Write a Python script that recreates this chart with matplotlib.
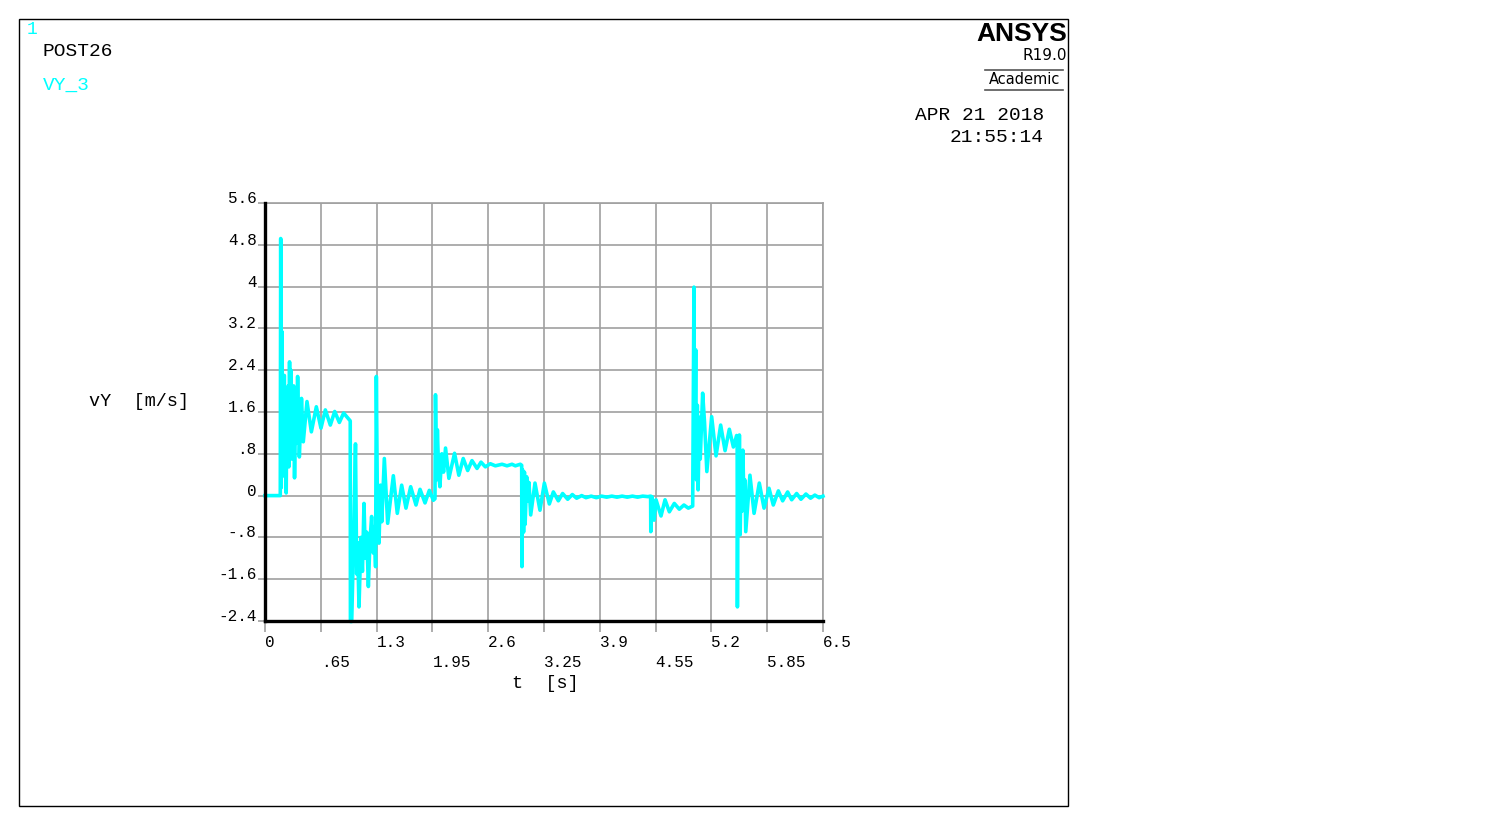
import numpy as np
import matplotlib.pyplot as plt
from matplotlib.patches import Rectangle
from matplotlib.lines import Line2D

# ---- data (time [s], vY [m/s]) ----
# first impact, settling near 1.5
t_a = [0.000, 0.178, 0.183, 0.189, 0.197, 0.204, 0.211, 0.218, 0.225, 0.232,
       0.240, 0.247, 0.254, 0.262, 0.270, 0.278, 0.286, 0.294, 0.302, 0.310,
       0.318, 0.326, 0.334, 0.344, 0.356, 0.366, 0.380, 0.400, 0.425, 0.446,
       0.489, 0.540, 0.598, 0.652, 0.703, 0.761, 0.812, 0.866, 0.916, 0.967,
       0.993]
v_a = [0.00, 0.00, 4.92, 0.15, 3.14, 0.40, 2.15, 0.95, 2.30, 0.36,
       1.95, 0.05, 1.60, 0.90, 2.10, 0.55, 2.56, 1.05, 2.40, 0.70,
       1.90, 1.25, 2.10, 0.34, 1.75, 1.00, 2.28, 0.74, 1.86, 1.03,
       1.80, 1.22, 1.70, 1.29, 1.64, 1.35, 1.61, 1.40, 1.58, 1.48,
       1.43]
# drop at ~1 s, spike at 1.3 s, settling near 0
t_b = [0.995, 1.010, 1.030, 1.054, 1.068, 1.078, 1.095, 1.118, 1.135, 1.153,
       1.170, 1.185, 1.204, 1.222, 1.242, 1.262, 1.275, 1.288, 1.297, 1.310,
       1.328, 1.345, 1.360, 1.390, 1.429, 1.495, 1.541, 1.592, 1.642, 1.697,
       1.759, 1.806, 1.864, 1.914, 1.961, 1.980]
v_b = [-2.41, -2.41, -1.00, 0.99, -1.50, -0.90, -2.13, -0.80, -1.45, -0.15,
       -1.20, -0.70, -1.74, -0.90, -0.40, -1.10, -0.60, -1.36, 2.28, -0.30,
       -0.91, 0.20, -0.50, 0.71, -0.53, 0.38, -0.34, 0.20, -0.24, 0.17,
       -0.18, 0.12, -0.14, 0.10, -0.09, -0.06]
# jump at ~2 s, settling near 0.6
t_c = [1.986, 1.998, 2.008, 2.022, 2.037, 2.060, 2.080, 2.103, 2.142, 2.208,
       2.258, 2.309, 2.361, 2.411, 2.470, 2.516, 2.567, 2.625, 2.683, 2.761,
       2.819, 2.877, 2.916, 2.974, 2.990]
v_c = [1.93, 0.30, 1.26, 0.50, 0.17, 0.80, 0.45, 0.91, 0.33, 0.81,
       0.39, 0.71, 0.48, 0.67, 0.52, 0.64, 0.55, 0.61, 0.57, 0.60,
       0.57, 0.60, 0.57, 0.60, 0.58]
# drop at ~3 s, flat near 0
t_d = [2.993, 3.002, 3.012, 3.022, 3.030, 3.048, 3.062, 3.075, 3.095, 3.145,
       3.203, 3.254, 3.312, 3.359, 3.417, 3.467, 3.526, 3.580, 3.630, 3.689,
       3.739, 3.800, 3.860, 3.920, 3.980, 4.040, 4.100, 4.160, 4.220, 4.280,
       4.340, 4.400, 4.460, 4.492]
v_d = [-1.36, 0.49, -0.70, 0.45, -0.55, 0.36, -0.10, 0.25, -0.37, 0.24,
       -0.28, 0.24, -0.16, 0.07, -0.10, 0.04, -0.07, 0.02, -0.05, 0.00,
       -0.04, -0.01, -0.04, -0.01, -0.03, -0.01, -0.03, -0.01, -0.03, -0.01,
       -0.03, -0.01, -0.02, -0.01]
# small dip at ~4.5 s
t_e = [4.494, 4.506, 4.516, 4.532, 4.555, 4.613, 4.660, 4.710, 4.768, 4.826,
       4.880, 4.931, 4.982]
v_e = [-0.69, -0.02, -0.10, -0.47, -0.08, -0.39, -0.08, -0.31, -0.15, -0.26,
       -0.18, -0.24, -0.20]
# second impact at ~5 s
t_f = [4.997, 5.005, 5.017, 5.026, 5.036, 5.045, 5.060, 5.070, 5.098, 5.120,
       5.147, 5.203, 5.254, 5.308, 5.359, 5.409, 5.456, 5.494, 5.500]
v_f = [3.99, 0.60, 2.79, 0.30, 1.73, 0.11, 1.50, 0.70, 1.96, 1.40,
       0.46, 1.51, 0.76, 1.35, 0.86, 1.27, 0.93, 1.15, 1.10]
# drop at ~5.5 s, settling to 0
t_g = [5.503, 5.510, 5.518, 5.526, 5.535, 5.545, 5.555, 5.566, 5.580, 5.590,
       5.600, 5.649, 5.697, 5.758, 5.813, 5.871, 5.921, 5.980, 6.030, 6.088,
       6.135, 6.193, 6.243, 6.301, 6.355, 6.405, 6.455, 6.500]
v_g = [-2.13, 0.90, -0.60, 1.16, -0.75, 0.40, -0.30, 0.87, -0.20, 0.30,
       -0.69, 0.39, -0.34, 0.24, -0.24, 0.14, -0.18, 0.09, -0.10, 0.07,
       -0.08, 0.04, -0.07, 0.03, -0.05, 0.01, -0.04, -0.01]

t = np.array(t_a + t_b + t_c + t_d + t_e + t_f + t_g)
vy = np.array(v_a + v_b + v_c + v_d + v_e + v_f + v_g)

x_ticks = [0, 0.65, 1.3, 1.95, 2.6, 3.25, 3.9, 4.55, 5.2, 5.85, 6.5]
x_labels = ['0', '.65', '1.3', '1.95', '2.6', '3.25', '3.9', '4.55', '5.2', '5.85', '6.5']
y_ticks = [-2.4, -1.6, -0.8, 0, 0.8, 1.6, 2.4, 3.2, 4.0, 4.8, 5.6]
y_labels = ['-2.4', '-1.6', '-.8', '0', '.8', '1.6', '2.4', '3.2', '4', '4.8', '5.6']

W, H = 1487, 826
mono = 'Liberation Mono'
grey = '#a0a0a0'
cyan = '#00ffff'

fig = plt.figure(figsize=(W / 100, H / 100), dpi=100)
fig.patch.set_facecolor('white')

ax = fig.add_axes([265 / W, 1 - 621 / H, (823 - 265) / W, (621 - 203) / H])
ax.plot(t, vy, color=cyan, lw=2.6, zorder=3, clip_on=False)
ax.set_xlim(0, 6.5)
ax.set_ylim(-2.4, 5.6)

ax.set_xticks(x_ticks)
# every other label goes on a second row
ax.set_xticklabels([lab if i % 2 == 0 else '\n' + lab for i, lab in enumerate(x_labels)],
                   ha='left', va='top', fontfamily=mono, fontsize=11.5, linespacing=1.45)
ax.set_yticks(y_ticks)
ax.set_yticklabels(y_labels, va='baseline', fontfamily=mono, fontsize=11.5)
ax.tick_params(axis='x', direction='out', length=8, width=1.2, color=grey, pad=2)
ax.tick_params(axis='y', direction='out', length=5, width=1.2, color=grey, pad=1)
ax.grid(True, color=grey, lw=1.2, zorder=1)
ax.set_axisbelow(True)
for s in ['left', 'bottom']:
    ax.spines[s].set_color('black')
    ax.spines[s].set_linewidth(2.4)
    ax.spines[s].set_zorder(4)
for s in ['top', 'right']:
    ax.spines[s].set_color(grey)
    ax.spines[s].set_linewidth(1.2)

def fx(px):
    return px / W

def fy(py):
    return 1 - py / H

fig.text(fx(89), fy(401), 'vY  [m/s]', family=mono, fontsize=13.3, va='center', ha='left')
fig.text(fx(512), fy(684), 't  [s]', family=mono, fontsize=13.3, va='center', ha='left')

# header texts
fig.text(fx(27), fy(30), '1', family=mono, fontsize=13, color=cyan, va='center')
fig.text(fx(43), fy(52), 'POST26', family=mono, fontsize=14, va='center')
fig.text(fx(43), fy(85), 'VY_3', family=mono, fontsize=14, color=cyan, va='center')
fig.text(fx(1044), fy(115), 'APR 21 2018', family=mono, fontsize=14, ha='right', va='center')
fig.text(fx(1044), fy(137), '21:55:14', family=mono, fontsize=14, ha='right', va='center')

fig.text(fx(1067), fy(34), 'ANSYS', family='Liberation Sans', fontweight='bold',
         fontsize=19, ha='right', va='center')
fig.text(fx(1067), fy(56), 'R19.0', family='DejaVu Sans', fontsize=11, ha='right', va='center')
fig.text(fx(1025), fy(80), 'Academic', family='DejaVu Sans', fontsize=10.5, ha='center', va='center')
for yy in [70, 90]:
    fig.add_artist(Line2D([fx(985), fx(1063)], [fy(yy), fy(yy)], color='#555555', lw=1.2))

# outer frame
fig.add_artist(Rectangle((fx(19), fy(806)), (1068 - 19) / W, (806 - 19) / H,
                         fill=False, ec='black', lw=1))

fig.savefig('out.png', dpi=100)
